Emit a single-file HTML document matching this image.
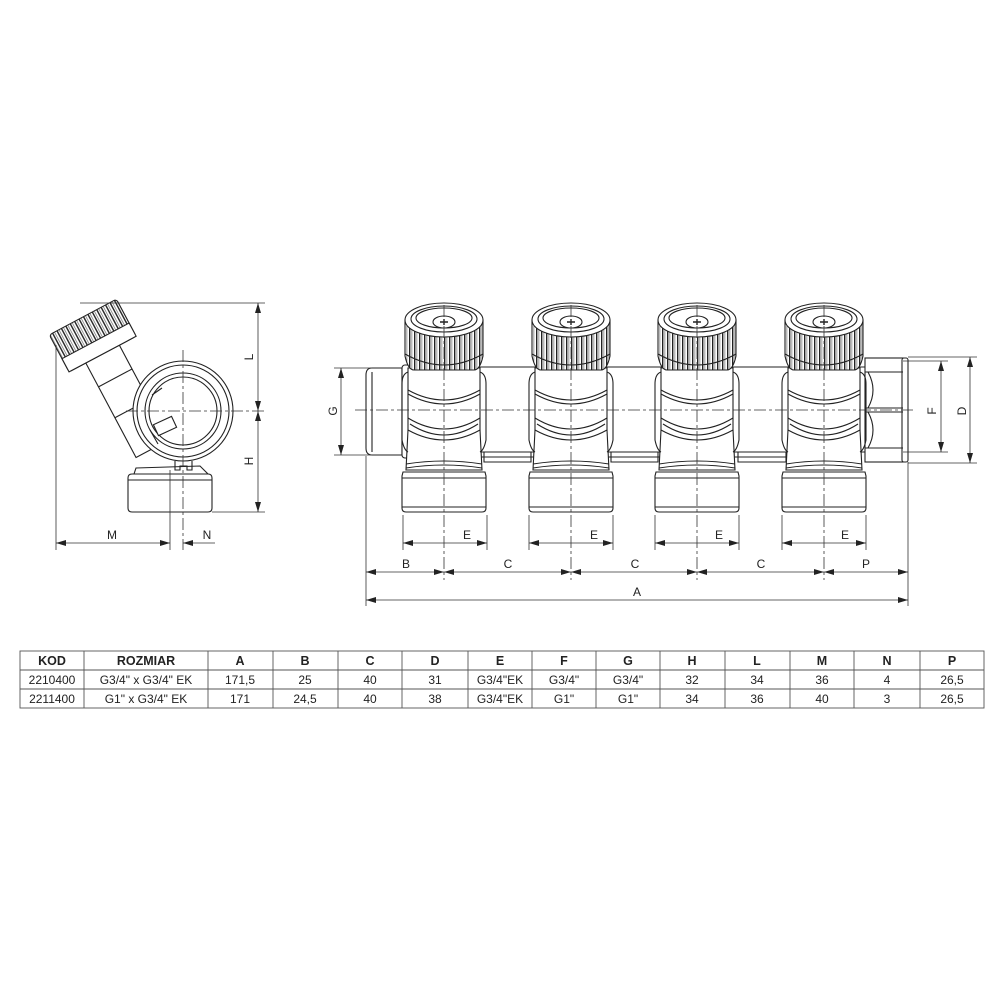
<!DOCTYPE html>
<html><head><meta charset="utf-8"><style>
html,body{margin:0;padding:0;background:#fff;}
svg{display:block}
text{font-family:"Liberation Sans",sans-serif;fill:#222}
</style></head><body>
<svg width="1000" height="1000" viewBox="0 0 1000 1000" xmlns="http://www.w3.org/2000/svg">
<defs>
<marker id="ar" viewBox="0 0 10 6" refX="10" refY="3" markerWidth="10" markerHeight="6" orient="auto-start-reverse" markerUnits="userSpaceOnUse"><path d="M0,0 L10,3 L0,6 z" fill="#222"/></marker>
<pattern id="kn" width="5" height="10" patternUnits="userSpaceOnUse"><rect width="5" height="10" fill="#fff"/><rect width="1.4" height="10" fill="#222"/><rect x="2.6" width="0.6" height="10" fill="#555"/></pattern>
<g id="valve" stroke="#222" fill="#fff" stroke-width="1.1">
  <path d="M-41,472 L41,472 L42,476 L42,508 Q42,512 38,512 L-38,512 Q-42,512 -42,508 L-42,476 Z"/>
  <line x1="-42" y1="478" x2="42" y2="478"/>
  <line x1="-42" y1="507" x2="42" y2="507"/>
  <path d="M-36,430 L-38,470 L38,470 L36,430 Z"/>
  <path d="M-38,464 Q0,458 38,464" fill="none"/>
  <path d="M-38,468 Q0,462 38,468" fill="none"/>
  <path d="M36,372 Q42,374 42,384 L42,440 Q40,450 36,452" fill="none"/>
  <path d="M-36,372 Q-42,374 -42,384 L-42,440 Q-40,450 -36,452" fill="none"/>
  <path d="M-36,368 L36,368 L36,430 Q0,450 -36,430 Z"/>
  <path d="M-36,390 Q0,410 36,390" fill="none"/>
  <path d="M-36,394 Q0,414 36,394" fill="none"/>
  <path d="M-36,418 Q0,440 36,418" fill="none"/>
  <path d="M-34,424 Q0,446 34,424" fill="none"/>
  <path d="M-39,320 L-39,356 Q-36,370 -30,370 L30,370 Q36,370 39,356 L39,320 Z" fill="url(#kn)"/>
  <path d="M-39,354 Q0,376 39,354" fill="none"/>
  <ellipse cx="0" cy="320" rx="39" ry="17"/>
  <ellipse cx="0" cy="319" rx="33" ry="13"/>
  <ellipse cx="0" cy="318" rx="28" ry="10"/>
  <ellipse cx="0" cy="322" rx="11" ry="6"/>
  <path d="M-4,322 L4,322 M0,319 L0,325" stroke-width="1.4"/>
</g>
</defs>

<g stroke="#222" fill="#fff" stroke-width="1.1">
  <path d="M408,367 L866,367 L866,452 L405,452 Z"/>
  <path d="M480,452 L480,457 L535,457 L535,452" fill="none"/>
  <path d="M484,452 L484,462 L531,462 L531,452" fill="none"/>
  <path d="M607,452 L607,457 L662,457 L662,452" fill="none"/>
  <path d="M611,452 L611,462 L658,462 L658,452" fill="none"/>
  <path d="M734,452 L734,457 L790,457 L790,452" fill="none"/>
  <path d="M738,452 L738,462 L786,462 L786,452" fill="none"/>
  <path d="M372,368 L402,368 L402,455 L372,455 Q366,455 366,448 L366,375 Q366,368 372,368 Z"/>
  <line x1="372" y1="372" x2="372" y2="452"/>
  <rect x="402" y="365" width="8" height="93" rx="3"/>
  <rect x="865" y="358" width="38" height="104"/>
  <rect x="902" y="358" width="6" height="104" rx="2"/>
  <line x1="865" y1="372" x2="903" y2="372"/>
  <line x1="865" y1="408" x2="903" y2="408"/>
  <line x1="865" y1="412" x2="903" y2="412"/>
  <line x1="865" y1="448" x2="903" y2="448"/>
  <path d="M868,372 Q878,390 868,408 M868,412 Q878,430 868,448" fill="none"/>
</g>
<use href="#valve" x="444"/>
<use href="#valve" x="571"/>
<use href="#valve" x="697"/>
<use href="#valve" x="824"/>

<g stroke="#333" stroke-width="0.8" stroke-dasharray="12,3,3,3" fill="none">
  <line x1="444" y1="305" x2="444" y2="580"/>
  <line x1="571" y1="305" x2="571" y2="580"/>
  <line x1="697" y1="305" x2="697" y2="580"/>
  <line x1="824" y1="305" x2="824" y2="580"/>
  <line x1="355" y1="410" x2="915" y2="410"/>
</g>

<g stroke="#333" stroke-width="0.8" fill="none">
  <line x1="366" y1="456" x2="366" y2="606"/>
  <line x1="908" y1="462" x2="908" y2="606"/>
  <line x1="403" y1="515" x2="403" y2="550"/><line x1="487" y1="515" x2="487" y2="550"/>
  <line x1="529" y1="515" x2="529" y2="550"/><line x1="613" y1="515" x2="613" y2="550"/>
  <line x1="655" y1="515" x2="655" y2="550"/><line x1="739" y1="515" x2="739" y2="550"/>
  <line x1="782" y1="515" x2="782" y2="550"/><line x1="866" y1="515" x2="866" y2="550"/>
  <line x1="444" y1="543" x2="487" y2="543" marker-end="url(#ar)"/><line x1="403" y1="543" x2="444" y2="543" marker-start="url(#ar)"/>
  <line x1="571" y1="543" x2="613" y2="543" marker-end="url(#ar)"/><line x1="529" y1="543" x2="571" y2="543" marker-start="url(#ar)"/>
  <line x1="697" y1="543" x2="739" y2="543" marker-end="url(#ar)"/><line x1="655" y1="543" x2="697" y2="543" marker-start="url(#ar)"/>
  <line x1="824" y1="543" x2="866" y2="543" marker-end="url(#ar)"/><line x1="782" y1="543" x2="824" y2="543" marker-start="url(#ar)"/>
  <line x1="366" y1="572" x2="444" y2="572" marker-start="url(#ar)" marker-end="url(#ar)"/>
  <line x1="444" y1="572" x2="571" y2="572" marker-start="url(#ar)" marker-end="url(#ar)"/>
  <line x1="571" y1="572" x2="697" y2="572" marker-start="url(#ar)" marker-end="url(#ar)"/>
  <line x1="697" y1="572" x2="824" y2="572" marker-start="url(#ar)" marker-end="url(#ar)"/>
  <line x1="824" y1="572" x2="908" y2="572" marker-start="url(#ar)" marker-end="url(#ar)"/>
  <line x1="366" y1="600" x2="908" y2="600" marker-start="url(#ar)" marker-end="url(#ar)"/>
  <line x1="334" y1="368" x2="372" y2="368"/><line x1="334" y1="455" x2="372" y2="455"/>
  <line x1="341" y1="368" x2="341" y2="455" marker-start="url(#ar)" marker-end="url(#ar)"/>
  <line x1="903" y1="361" x2="948" y2="361"/><line x1="903" y1="452" x2="948" y2="452"/>
  <line x1="941" y1="361" x2="941" y2="452" marker-start="url(#ar)" marker-end="url(#ar)"/>
  <line x1="908" y1="357" x2="977" y2="357"/><line x1="908" y1="463" x2="977" y2="463"/>
  <line x1="970" y1="357" x2="970" y2="463" marker-start="url(#ar)" marker-end="url(#ar)"/>
</g>
<g font-size="12" text-anchor="middle">
  <text x="467" y="539">E</text><text x="594" y="539">E</text><text x="719" y="539">E</text><text x="845" y="539">E</text>
  <text x="406" y="568">B</text><text x="508" y="568">C</text><text x="635" y="568">C</text><text x="761" y="568">C</text><text x="866" y="568">P</text>
  <text x="637" y="596">A</text>
  <text transform="translate(337,411) rotate(-90)">G</text>
  <text transform="translate(936,411) rotate(-90)">F</text>
  <text transform="translate(966,411) rotate(-90)">D</text>
</g>

<!-- SIDE VIEW -->
<g stroke="#222" fill="#fff" stroke-width="1.1">
  <path d="M132,474 L208,474 Q212,474 212,478 L212,508 Q212,512 208,512 L132,512 Q128,512 128,508 L128,478 Q128,474 132,474 Z"/>
  <line x1="128" y1="480" x2="212" y2="480"/>
  <path d="M136,468 L200,466 L208,474 L134,474 Z"/>
  <g transform="translate(-8,0) rotate(-28 135 400)">
    <rect x="116" y="345" width="38" height="110"/>
    <line x1="116" y1="375" x2="154" y2="375"/>
    <line x1="116" y1="410" x2="154" y2="410"/>
    <rect x="97" y="306" width="76" height="42" rx="3" fill="url(#kn)"/>
    <rect x="97" y="333" width="76" height="15" fill="#fff"/>
  </g>
  <circle cx="183" cy="411" r="50"/>
  <circle cx="183" cy="411" r="46" fill="none"/>
  <circle cx="183" cy="411" r="38" fill="none"/>
  <circle cx="183" cy="411" r="34" fill="none"/>
  <path d="M152,395 L162,388 M150,430 L158,444" fill="none"/>
  <rect x="155" y="420" width="20" height="12" transform="rotate(-25 165 426)"/>
  <path d="M175,461 L175,470 L180,470 L180,466 L187,466 L187,470 L192,470 L192,461" fill="none"/>
</g>
<g stroke="#333" stroke-width="0.8" fill="none">
  <line x1="183" y1="350" x2="183" y2="550" stroke-dasharray="12,3,3,3"/>
  <line x1="126" y1="411" x2="265" y2="411" stroke-dasharray="12,3,3,3"/>
  <line x1="80" y1="303" x2="265" y2="303"/>
  <line x1="212" y1="512" x2="265" y2="512"/>
  <line x1="258" y1="303" x2="258" y2="411" marker-start="url(#ar)" marker-end="url(#ar)"/>
  <line x1="258" y1="411" x2="258" y2="512" marker-start="url(#ar)" marker-end="url(#ar)"/>
  <line x1="56" y1="345" x2="56" y2="550"/>
  <line x1="170" y1="470" x2="170" y2="550"/>
  <line x1="56" y1="543" x2="170" y2="543" marker-start="url(#ar)" marker-end="url(#ar)"/>
  <line x1="183" y1="543" x2="215" y2="543" marker-start="url(#ar)"/>
</g>
<g font-size="12" text-anchor="middle">
  <text transform="translate(253,357) rotate(-90)">L</text>
  <text transform="translate(253,461) rotate(-90)">H</text>
  <text x="112" y="539">M</text>
  <text x="207" y="539">N</text>
</g>

<!-- TABLE -->
<g stroke="#555" stroke-width="0.9" fill="none">
  <rect x="20" y="651" width="964" height="57"/>
  <line x1="20" y1="670" x2="984" y2="670"/>
  <line x1="20" y1="689" x2="984" y2="689"/>
  <line x1="84" y1="651" x2="84" y2="708"/><line x1="208" y1="651" x2="208" y2="708"/>
  <line x1="273" y1="651" x2="273" y2="708"/><line x1="338" y1="651" x2="338" y2="708"/>
  <line x1="402" y1="651" x2="402" y2="708"/><line x1="468" y1="651" x2="468" y2="708"/>
  <line x1="532" y1="651" x2="532" y2="708"/><line x1="596" y1="651" x2="596" y2="708"/>
  <line x1="660" y1="651" x2="660" y2="708"/><line x1="725" y1="651" x2="725" y2="708"/>
  <line x1="790" y1="651" x2="790" y2="708"/><line x1="854" y1="651" x2="854" y2="708"/>
  <line x1="920" y1="651" x2="920" y2="708"/>
</g>
<g font-size="12.5" text-anchor="middle" font-weight="bold">
  <text x="52" y="665">KOD</text><text x="146" y="665">ROZMIAR</text><text x="240" y="665">A</text>
  <text x="305" y="665">B</text><text x="370" y="665">C</text><text x="435" y="665">D</text>
  <text x="500" y="665">E</text><text x="564" y="665">F</text><text x="628" y="665">G</text>
  <text x="692" y="665">H</text><text x="757" y="665">L</text><text x="822" y="665">M</text>
  <text x="887" y="665">N</text><text x="952" y="665">P</text>
</g>
<g font-size="12" text-anchor="middle">
  <text x="52" y="684">2210400</text><text x="146" y="684">G3/4" x G3/4" EK</text><text x="240" y="684">171,5</text>
  <text x="305" y="684">25</text><text x="370" y="684">40</text><text x="435" y="684">31</text>
  <text x="500" y="684">G3/4"EK</text><text x="564" y="684">G3/4"</text><text x="628" y="684">G3/4"</text>
  <text x="692" y="684">32</text><text x="757" y="684">34</text><text x="822" y="684">36</text>
  <text x="887" y="684">4</text><text x="952" y="684">26,5</text>
  <text x="52" y="703">2211400</text><text x="146" y="703">G1" x G3/4" EK</text><text x="240" y="703">171</text>
  <text x="305" y="703">24,5</text><text x="370" y="703">40</text><text x="435" y="703">38</text>
  <text x="500" y="703">G3/4"EK</text><text x="564" y="703">G1"</text><text x="628" y="703">G1"</text>
  <text x="692" y="703">34</text><text x="757" y="703">36</text><text x="822" y="703">40</text>
  <text x="887" y="703">3</text><text x="952" y="703">26,5</text>
</g>
</svg>
</body></html>
